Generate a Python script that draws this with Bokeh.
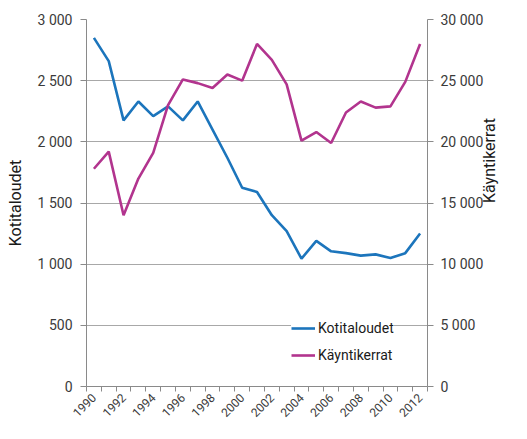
from math import pi
from bokeh.plotting import figure
from bokeh.models import (Range1d, LinearAxis, FixedTicker, CustomJSTickFormatter,
                          Legend, LegendItem, ColumnDataSource)
from bokeh.embed import file_html
from bokeh.resources import INLINE

years = list(range(1990, 2013))
kotitaloudet = [2850, 2660, 2175, 2330, 2210, 2290, 2175, 2330, 2100, 1870, 1625, 1590,
                1400, 1270, 1045, 1190, 1105, 1090, 1070, 1080, 1050, 1090, 1250]
kayntikerrat = [17800, 19200, 14000, 17000, 19100, 23000, 25100, 24800, 24400, 25500, 25000, 28000,
                26700, 24700, 20100, 20800, 19900, 22400, 23300, 22800, 22900, 24900, 28000]
x_tick_years = list(range(1990, 2013, 2))
left_ticks = [0, 500, 1000, 1500, 2000, 2500, 3000]
right_ticks = [0, 5000, 10000, 15000, 20000, 25000, 30000]

BLUE = "#1C75BC"
PURPLE = "#B2348E"
AXIS = "#8a8a8a"
FONT = "Roboto"
TICK_COLOR = "#3a3a3a"
LABEL_COLOR = "#1a1a1a"

src = ColumnDataSource(dict(year=years, koti=kotitaloudet, kaynti=kayntikerrat))

p = figure(width=511, height=423, output_backend="svg", toolbar_location=None,
           x_range=Range1d(years[0] - 0.5, years[-1] + 0.5), y_range=Range1d(0, 3000),
           min_border_left=86, min_border_right=60, min_border_top=19, min_border_bottom=30)
p.outline_line_color = None
p.background_fill_color = "white"
p.border_fill_color = "white"

p.extra_y_ranges = {"k": Range1d(0, 30000)}

fmt_code = r"return tick.toString().replace(/\B(?=(\d{3})+(?!\d))/g, ' ');"

# x axis
xa = p.xaxis[0]
xa.ticker = FixedTicker(ticks=x_tick_years, minor_ticks=[y - 0.5 for y in years] + [years[-1] + 0.5])
xa.major_label_orientation = pi / 4
xa.major_tick_out = 0
xa.major_tick_in = 0
xa.minor_tick_out = 5
xa.minor_tick_in = 0
xa.minor_tick_line_color = AXIS
xa.axis_line_color = AXIS
xa.major_label_text_font = FONT
xa.major_label_text_font_size = "12px"
xa.major_label_text_color = TICK_COLOR
xa.major_label_standoff = 4

# left axis
ya = p.yaxis[0]
ya.ticker = FixedTicker(ticks=left_ticks)
ya.formatter = CustomJSTickFormatter(code=fmt_code)
ya.axis_label = "Kotitaloudet"
ya.axis_label_text_font = FONT
ya.axis_label_text_font_size = "16px"
ya.axis_label_text_font_style = "normal"
ya.axis_label_text_color = LABEL_COLOR
ya.axis_label_standoff = 10
ya.major_tick_out = 6
ya.major_tick_in = 0
ya.minor_tick_line_color = None
ya.axis_line_color = AXIS
ya.major_tick_line_color = AXIS
ya.major_label_text_font = FONT
ya.major_label_text_font_size = "14px"
ya.major_label_text_color = TICK_COLOR
ya.major_label_standoff = 8

# right axis
ra = LinearAxis(y_range_name="k", ticker=FixedTicker(ticks=right_ticks),
                formatter=CustomJSTickFormatter(code=fmt_code))
ra.major_tick_out = 6
ra.major_tick_in = 0
ra.minor_tick_line_color = None
ra.axis_line_color = AXIS
ra.major_tick_line_color = AXIS
ra.major_label_text_font = FONT
ra.major_label_text_font_size = "14px"
ra.major_label_text_color = TICK_COLOR
ra.major_label_standoff = 7
ra.axis_label = "Käyntikerrat"
ra.axis_label_text_font = FONT
ra.axis_label_text_font_size = "16px"
ra.axis_label_text_font_style = "normal"
ra.axis_label_text_color = LABEL_COLOR
ra.axis_label_standoff = 3
try:
    ra.axis_label_orientation = pi / 2
except Exception:
    pass
p.add_layout(ra, "right")

p.xgrid.visible = False
p.ygrid.ticker = FixedTicker(ticks=left_ticks)
p.ygrid.grid_line_color = "#a8a8a8"
p.ygrid.grid_line_width = 1

r1 = p.line(x="year", y="koti", source=src, line_width=2.6, line_color=BLUE)
r2 = p.line(x="year", y="kaynti", source=src, line_width=2.6, line_color=PURPLE, y_range_name="k")

legend = Legend(items=[LegendItem(label="Kotitaloudet", renderers=[r1]),
                       LegendItem(label="Käyntikerrat", renderers=[r2])],
                location=(205, 21), orientation="vertical")
legend.background_fill_color = "white"
legend.background_fill_alpha = 1.0
legend.border_line_color = None
legend.glyph_width = 24
legend.label_standoff = 3
legend.spacing = 7
legend.padding = 8
legend.margin = 0
legend.label_text_font = FONT
legend.label_text_font_size = "14px"
legend.label_text_color = LABEL_COLOR
p.add_layout(legend, "center")

open("out.html", "w").write(file_html(p, INLINE))
